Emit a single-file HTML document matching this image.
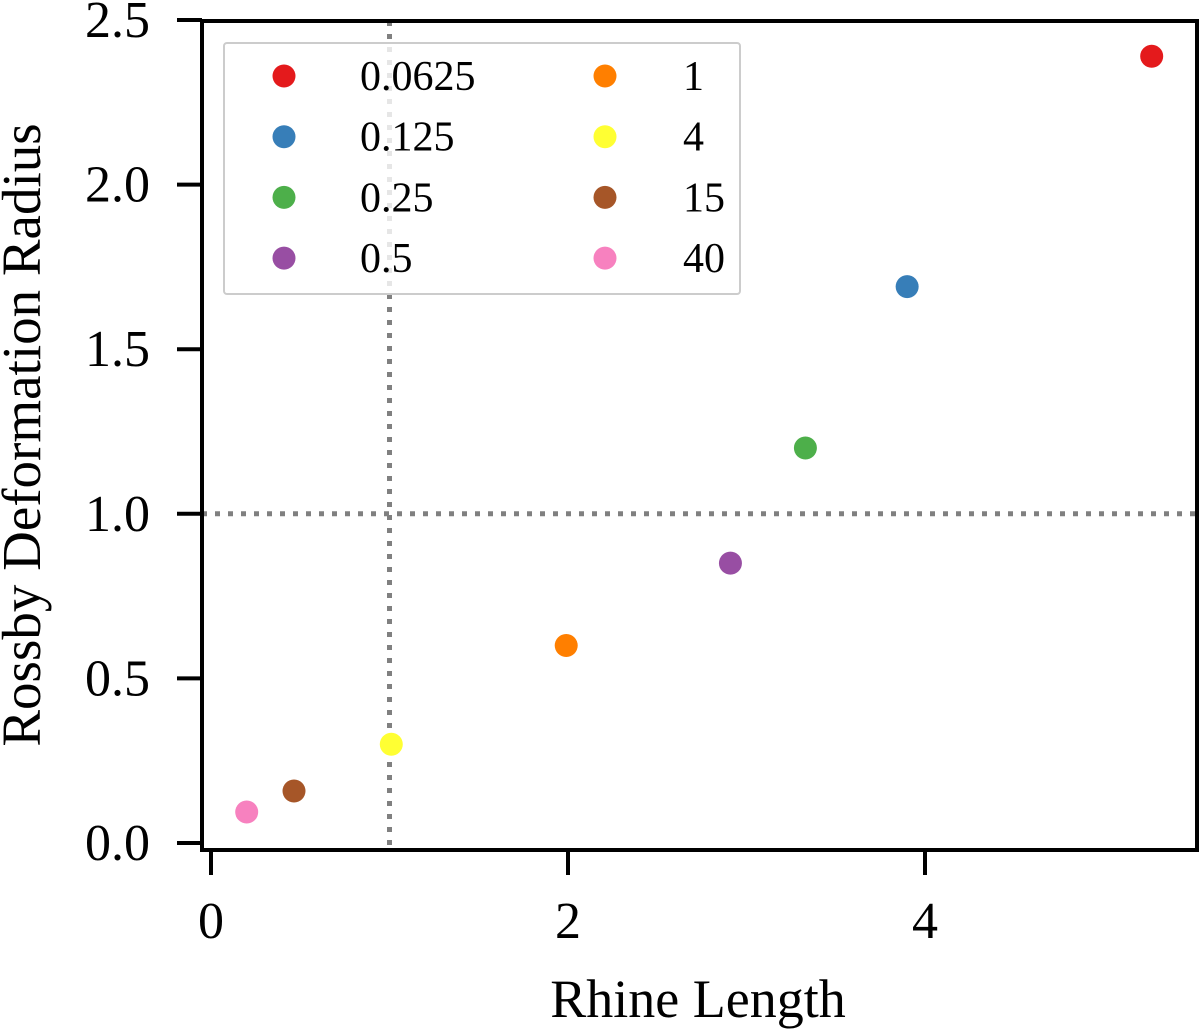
<!DOCTYPE html>
<html><head><meta charset="utf-8"><style>
html,body{margin:0;padding:0;background:#fff;}
svg text{font-family:"Liberation Serif",serif;fill:#000;}
</style></head><body>
<svg id="chart" width="1200" height="1031" viewBox="0 0 1200 1031" xmlns="http://www.w3.org/2000/svg">
</svg>
<script>
const labels = ["0.0625","0.125","0.25","0.5","1","4","15","40"];
const colors = ["#e41a1c","#377eb8","#4daf4a","#984ea3","#ff7f00","#ffff33","#a65628","#f781bf"];
const xValues = [5.27,3.90,3.33,2.91,1.99,1.01,0.465,0.20];
const yValues = [2.39,1.69,1.20,0.85,0.60,0.30,0.158,0.094];
const xTicks = [0,2,4];
const yTicks = [0,0.5,1.0,1.5,2.0,2.5];

const NS="http://www.w3.org/2000/svg";
const svg=document.getElementById('chart');
const L=202,R=1197,T=21,B=850;
const xs=v=>211+v*178.5;
const ys=v=>843-v*329.2;
function mk(tag,attrs,parent){const e=document.createElementNS(NS,tag);for(const k in attrs)e.setAttribute(k,attrs[k]);(parent||svg).appendChild(e);return e;}

let e=mk('line',{x1:xs(1),x2:xs(1),y1:T,y2:B,stroke:'#808080','stroke-width':5,'stroke-dasharray':'5,8'});


e=mk('line',{x1:L,x2:R,y1:ys(1),y2:ys(1),stroke:'#808080','stroke-width':5,'stroke-dasharray':'5,8'});



for(let i=0;i<xValues.length;i++){
  const c=mk('circle',{cx:xs(xValues[i]),cy:ys(yValues[i]),r:11.5,fill:colors[i]});
  
  
}

const lg=mk('g',{});


mk('rect',{x:224,y:43,width:516,height:251,fill:'#fff','fill-opacity':0.8,stroke:'#ccc','stroke-width':2,rx:3},lg);
for(let i=0;i<labels.length;i++){
  const col=Math.floor(i/4),row=i%4;
  const cy=76+row*60.7;
  const g=mk('g',{},lg);
  
  
  mk('circle',{cx:col?605:284,cy:cy,r:11.5,fill:colors[i]},g);
  const t=mk('text',{x:col?683:360,y:cy+14,'font-size':42},g);
  t.textContent=labels[i];
}

e=mk('rect',{x:L,y:T,width:R-L,height:B-T,fill:'none',stroke:'#000','stroke-width':4});



for(const v of xTicks){
  mk('line',{x1:xs(v),x2:xs(v),y1:B,y2:B+25,stroke:'#000','stroke-width':4});
  const t=mk('text',{x:xs(v),y:938,'font-size':52,'text-anchor':'middle'});
  
  
  t.textContent=v;
}
for(const v of yTicks){
  mk('line',{x1:L-25,x2:L,y1:ys(v),y2:ys(v),stroke:'#000','stroke-width':4});
  const t=mk('text',{x:150,y:ys(v)+17,'font-size':52,'text-anchor':'end'});
  
  
  t.textContent=v.toFixed(1);
}

e=mk('text',{x:698,y:1017,'font-size':54,'text-anchor':'middle'});


e.textContent='Rhine Length';
e=mk('text',{x:0,y:0,'font-size':55,'text-anchor':'middle',transform:'translate(40,435) rotate(-90)'});


e.textContent='Rossby Deformation Radius';
</script>
</body></html>
